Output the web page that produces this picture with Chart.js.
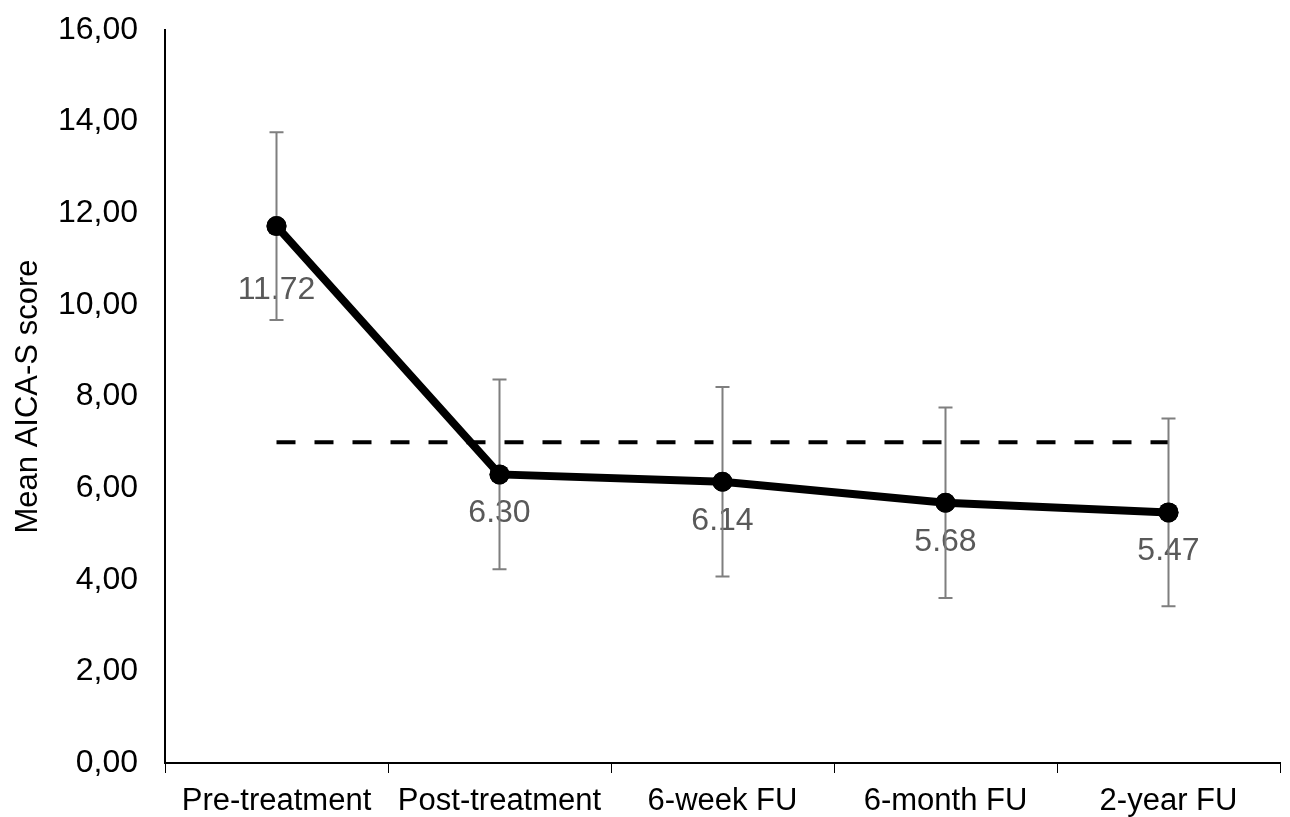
<!DOCTYPE html>
<html>
<head>
<meta charset="utf-8">
<script src="https://cdn.jsdelivr.net/npm/chart.js@4.4.1/dist/chart.umd.min.js"></script>
<style>
  html, body { margin: 0; padding: 0; background: #fff; }
  #wrap { width: 1290px; height: 817px; }
</style>
</head>
<body>
<div id="wrap"><canvas id="chart"></canvas></div>
<script>
// data
const categories = ['Pre-treatment', 'Post-treatment', '6-week FU', '6-month FU', '2-year FU'];
const meanScores = [11.72, 6.30, 6.14, 5.68, 5.47];
const sdValues = [2.05, 2.07, 2.07, 2.08, 2.05];
const cutoffValues = [7, 7, 7, 7, 7];
const yTicks = [0, 2, 4, 6, 8, 10, 12, 14, 16];

const FONT = '"Liberation Sans", Arial, sans-serif';

// error bars + value labels
const errorBars = {
  id: 'errorBars',
  afterDatasetsDraw(chart) {
    const ctx = chart.ctx;
    const meta = chart.getDatasetMeta(0);
    const y = chart.scales.y;
    ctx.save();
    ctx.fillStyle = '#595959';
    ctx.font = '32px ' + FONT;
    ctx.textAlign = 'center';
    ctx.textBaseline = 'middle';
    meta.data.forEach((pt, i) => {
      const off = i === 0 ? 64 : 39;
      ctx.fillText(meanScores[i].toFixed(2), pt.x, pt.y + off);
    });
    ctx.strokeStyle = '#7f7f7f';
    ctx.lineWidth = 2;
    meta.data.forEach((pt, i) => {
      const top = y.getPixelForValue(meanScores[i] + sdValues[i]);
      const bot = y.getPixelForValue(meanScores[i] - sdValues[i]);
      ctx.beginPath();
      ctx.moveTo(pt.x, top); ctx.lineTo(pt.x, bot);
      ctx.moveTo(pt.x - 7, top); ctx.lineTo(pt.x + 7, top);
      ctx.moveTo(pt.x - 7, bot); ctx.lineTo(pt.x + 7, bot);
      ctx.stroke();
    });
    // point markers over the bars
    ctx.fillStyle = '#000';
    meta.data.forEach(pt => {
      ctx.beginPath();
      ctx.arc(pt.x, pt.y, 10, 0, Math.PI * 2);
      ctx.fill();
    });
    ctx.restore();
  }
};

new Chart(document.getElementById('chart'), {
  type: 'line',
  data: {
    labels: categories,
    datasets: [{
      label: 'Mean AICA-S score',
      data: meanScores,
      borderColor: '#000',
      backgroundColor: '#000',
      borderWidth: 8,
      pointRadius: 10,
      pointBackgroundColor: '#000',
      pointBorderWidth: 0,
      tension: 0,
      order: 1
    }, {
      label: 'Cut-off',
      data: cutoffValues,
      borderColor: '#000',
      borderWidth: 4,
      borderDash: [19, 19],
      pointRadius: 0,
      tension: 0,
      order: 2
    }]
  },
  options: {
    responsive: true,
    maintainAspectRatio: false,
    animation: false,
    layout: { padding: { top: 30, right: 7, left: 0, bottom: 0 } },
    plugins: {
      legend: { display: false },
      tooltip: { enabled: false }
    },
    scales: {
      x: {
        offset: true,
        grid: {
          offset: true,
          drawOnChartArea: false,
          drawTicks: true,
          tickLength: 10,
          color: '#000',
          lineWidth: 1
        },
        border: { color: '#000', width: 2 },
        ticks: {
          color: '#000',
          font: { family: FONT, size: 31 },
          padding: 10,
          maxRotation: 0,
          autoSkip: false
        },
        afterFit(scale) {
          scale.height = 54;
          scale.paddingLeft = 0;
          scale.paddingRight = 0;
        }
      },
      y: {
        min: 0,
        max: 16,
        afterBuildTicks(scale) { scale.ticks = yTicks.map(v => ({ value: v })); },
        grid: { display: false },
        border: { color: '#000', width: 2 },
        ticks: {
          color: '#000',
          font: { family: FONT, size: 32 },
          padding: 19,
          callback: v => v.toFixed(2).replace('.', ',')
        },
        title: {
          display: true,
          text: 'Mean AICA-S score',
          color: '#000',
          font: { family: FONT, size: 31 },
          padding: { top: 10, bottom: 0 }
        },
        afterFit(scale) {
          scale.width = 165;
          scale.paddingTop = 0;
          scale.paddingBottom = 0;
        }
      }
    }
  },
  plugins: [errorBars]
});
</script>
</body>
</html>
